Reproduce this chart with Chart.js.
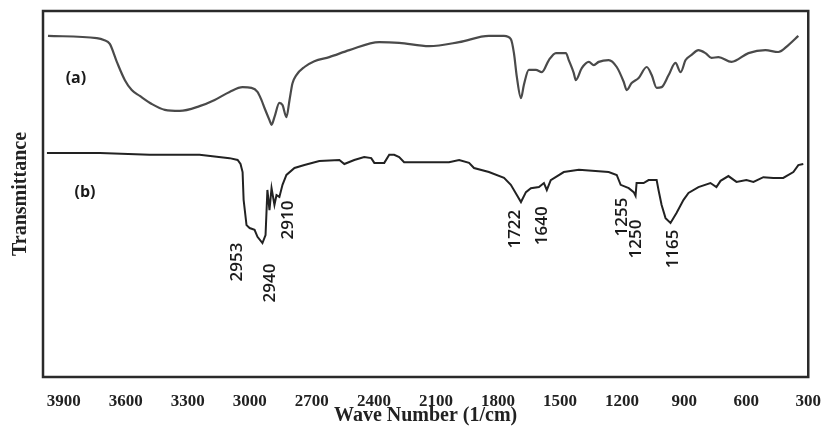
<!DOCTYPE html>
<html>
<head>
<meta charset="utf-8">
<script src="https://cdn.jsdelivr.net/npm/chart.js@4.4.1/dist/chart.umd.min.js"></script>
<style>
  html, body { margin: 0; padding: 0; background: #fff; }
  #wrap { width: 827px; height: 432px; }
</style>
</head>
<body>
<div id="wrap"><canvas id="ir"></canvas></div>
<script>
// -----------------------------
// Data
// -----------------------------
const xTicks = [3900, 3600, 3300, 3000, 2700, 2400, 2100, 1800, 1500, 1200, 900, 600, 300]

// trace (a)
const waveA = [3976, 3740, 3706, 3677, 3643, 3604, 3571, 3532, 3474, 3411, 3339, 3243, 3170, 3098,
  3035, 2992, 2963, 2944, 2929, 2905, 2895, 2881, 2857, 2842, 2823, 2808, 2794, 2775, 2736, 2688,
  2616, 2519, 2374, 2278, 2133, 1988, 1844, 1771, 1738, 1723, 1709, 1689, 1675, 1651, 1617, 1588,
  1554, 1520, 1472, 1458, 1434, 1424, 1395, 1361, 1337, 1313, 1265, 1226, 1192, 1178, 1154, 1120,
  1081, 1057, 1033, 1009, 975, 942, 917, 893, 864, 831, 797, 768, 734, 671, 589, 507, 445, 396, 348]
const transA = [93.2, 92.6, 92.1, 91.0, 86.1, 81.1, 78.4, 76.8, 74.6, 73.0, 72.7, 74.0, 75.7, 77.9,
  79.2, 79.0, 77.9, 75.7, 73.5, 70.2, 68.9, 71.0, 74.9, 74.3, 71.0, 75.7, 80.2, 82.5, 84.7, 86.3,
  87.4, 89.3, 91.5, 91.3, 90.4, 91.5, 93.2, 93.2, 92.3, 88.5, 82.0, 76.2, 79.8, 83.9, 83.9, 83.3,
  86.6, 88.5, 88.5, 86.6, 83.1, 81.1, 84.4, 86.1, 85.2, 86.1, 86.6, 84.7, 80.6, 78.4, 80.3, 81.7,
  84.7, 82.5, 79.0, 79.2, 82.5, 85.8, 83.3, 86.6, 88.0, 89.3, 88.5, 87.2, 87.4, 86.1, 88.5, 89.3, 88.8, 90.7, 93.2]

// trace (b)
const waveB = [3981, 3725, 3484, 3243, 3098, 3059, 3045, 3035, 3030, 3016, 3001, 2977, 2963, 2939,
  2924, 2915, 2905, 2895, 2881, 2871, 2857, 2842, 2823, 2784, 2736, 2664, 2567, 2543, 2495, 2447,
  2413, 2398, 2350, 2326, 2302, 2278, 2254, 2037, 1988, 1940, 1916, 1844, 1771, 1738, 1709, 1689,
  1665, 1641, 1602, 1578, 1564, 1545, 1482, 1409, 1265, 1226, 1207, 1168, 1144, 1135, 1130, 1096,
  1072, 1033, 1024, 1009, 990, 966, 937, 903, 879, 831, 773, 744, 724, 686, 647, 599, 565, 517,
  469, 421, 372, 348, 324]
const transB = [61.2, 61.2, 60.7, 60.7, 59.8, 59.3, 58.2, 56.0, 48.4, 41.5, 40.7, 40.2, 38.3, 36.6,
  38.8, 51.1, 45.6, 51.6, 47.0, 49.7, 49.2, 52.5, 55.2, 57.1, 57.9, 59.0, 59.3, 58.2, 59.3, 60.1,
  59.8, 58.5, 58.5, 60.7, 60.7, 60.1, 58.7, 58.7, 59.3, 58.5, 57.1, 56.0, 54.4, 52.5, 49.7, 47.8,
  50.5, 51.6, 51.9, 53.0, 51.1, 53.8, 56.0, 56.6, 56.0, 55.2, 52.5, 51.6, 50.5, 49.5, 53.0, 53.0,
  53.8, 53.8, 51.1, 47.0, 43.4, 42.1, 44.8, 48.4, 50.3, 51.9, 53.0, 51.9, 53.6, 54.9, 53.3, 53.8, 53.3, 54.6,
  54.4, 54.4, 56.0, 57.9, 58.2]

// peak annotations on (b)
const peakLabels = ["2953", "2940", "2910", "1722", "1640", "1255", "1250", "1165"]
const peakWave = [3059, 2900, 2813, 1718, 1588, 1202, 1130, 951]
const peakTrans = [31.4, 25.7, 42.9, 40.4, 41.3, 43.7, 37.7, 35.0]

// trace tags
const traceTags = ["(a)", "(b)"]
const tagWave = [3841, 3797]
const tagTrans = [81.7, 50.3]

// -----------------------------
// Helpers
// -----------------------------
function toPoints(xs, ys) {
  return xs.map((x, i) => ({ x: x, y: ys[i] }))
}

const serif = "'Liberation Serif', 'DejaVu Serif', serif"

// box + annotation text
const extras = {
  id: "extras",
  afterDraw(chart) {
    const ctx = chart.ctx
    const a = chart.chartArea
    const xs = chart.scales.x
    const ys = chart.scales.y

    ctx.save()
    ctx.strokeStyle = "#2a2a2a"
    ctx.lineWidth = 2.5
    ctx.strokeRect(a.left, a.top, a.right - a.left, a.bottom - a.top)

    ctx.fillStyle = "#1a1a1a"
    ctx.font = "bold 16px 'Open Sans', sans-serif"
    ctx.textAlign = "center"
    ctx.textBaseline = "middle"
    traceTags.forEach((t, i) => {
      ctx.fillText(t, xs.getPixelForValue(tagWave[i]), ys.getPixelForValue(tagTrans[i]))
    })

    ctx.font = "600 17px 'Open Sans', sans-serif"
    peakLabels.forEach((t, i) => {
      ctx.save()
      ctx.translate(xs.getPixelForValue(peakWave[i]), ys.getPixelForValue(peakTrans[i]))
      ctx.rotate(-Math.PI / 2)
      ctx.fillText(t, 0, 0)
      ctx.restore()
    })
    ctx.restore()
  }
}

// -----------------------------
// Chart
// -----------------------------
new Chart(document.getElementById("ir"), {
  type: "scatter",
  data: {
    datasets: [
      {
        data: toPoints(waveA, transA),
        showLine: true,
        borderColor: "#4a4a4a",
        borderWidth: 2.2,
        pointRadius: 0,
        cubicInterpolationMode: "monotone"
      },
      {
        data: toPoints(waveB, transB),
        showLine: true,
        borderColor: "#222",
        borderWidth: 2,
        pointRadius: 0,
        tension: 0
      }
    ]
  },
  options: {
    responsive: true,
    maintainAspectRatio: false,
    animation: false,
    layout: { padding: { top: 11, right: 17, bottom: 0, left: 0 } },
    plugins: { legend: { display: false }, tooltip: { enabled: false } },
    scales: {
      x: {
        type: "linear",
        reverse: true,
        min: 300,
        max: 4000,
        grid: { display: false },
        border: { display: false },
        afterBuildTicks: s => { s.ticks = xTicks.map(v => ({ value: v })) },
        afterFit: s => { s.height = 55 },
        ticks: {
          padding: 6,
          color: "#222",
          font: { family: serif, size: 17, weight: "bold" },
          maxRotation: 0,
          autoSkip: false,
          callback: v => String(v)
        },
        title: {
          display: true,
          text: "Wave Number (1/cm)",
          color: "#222",
          font: { family: serif, size: 20, weight: "bold" },
          padding: { top: 0, bottom: 4 }
        }
      },
      y: {
        min: 0,
        max: 100,
        grid: { display: false },
        border: { display: false },
        ticks: { display: false },
        afterFit: s => { s.width = 43 },
        title: {
          display: true,
          text: "Transmittance",
          color: "#222",
          font: { family: serif, size: 20, weight: "bold" },
          padding: { top: 9, bottom: 0 }
        }
      }
    }
  },
  plugins: [extras]
})
</script>
</body>
</html>
